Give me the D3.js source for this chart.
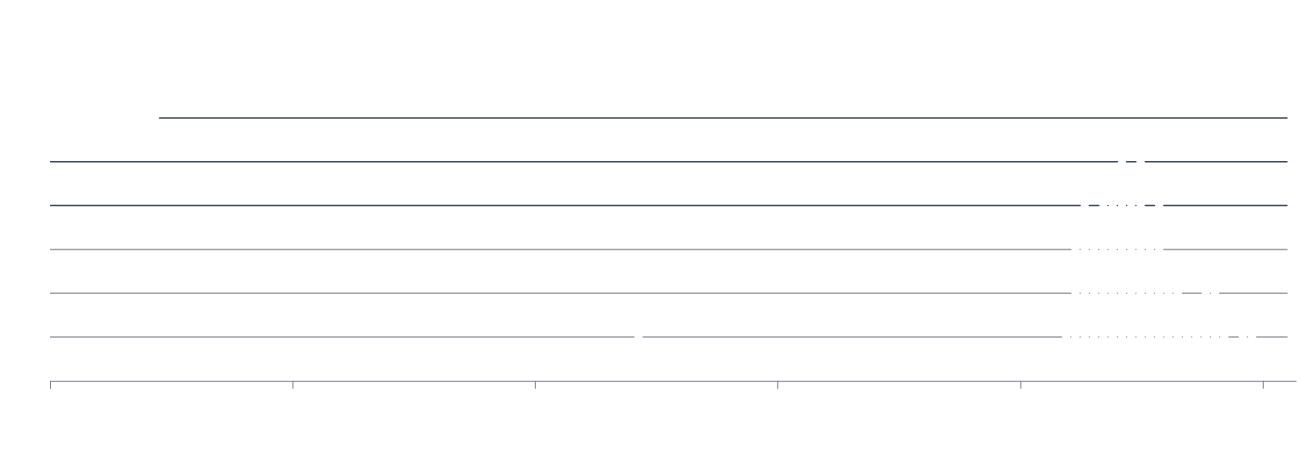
<!DOCTYPE html>
<html>
<head>
<meta charset="utf-8">
<script src="https://cdn.jsdelivr.net/npm/d3@7"></script>
<style>
  html, body { margin: 0; padding: 0; background: #ffffff; }
  svg { display: block; }
</style>
</head>
<body>
<svg id="chart" width="1302" height="474"></svg>
<script>
// ---- data ----
// Six series; weekly samples starting 2016-12-29. Each run = [firstWeek, lastWeek] of available data.
const seriesNames = ["S1", "S2", "S3", "S4", "S5", "S6"];
const seriesGroup = ["dark", "dark", "dark", "light", "light", "light"];
const firstSample = "2016-12-29";
const sampleCount = 268;
const runsS1 = [[24, 267]];
const runsS2 = [[0, 230], [232, 234], [236, 267]];
const runsS3 = [[0, 222], [224, 226], [228, 228], [230, 230], [232, 232], [234, 234], [236, 238], [240, 267]];
const runsS4 = [[0, 220], [222, 222], [224, 224], [226, 226], [228, 228], [230, 230], [232, 232], [234, 234], [236, 236], [238, 238], [240, 267]];
const runsS5 = [[0, 220], [222, 222], [224, 224], [226, 226], [228, 228], [230, 230], [232, 232], [234, 234], [236, 236], [238, 238], [240, 240], [242, 242], [244, 248], [250, 250], [252, 267]];
const runsS6 = [[0, 126], [128, 218], [220, 220], [222, 222], [224, 224], [226, 226], [228, 228], [230, 230], [232, 232], [234, 234], [236, 236], [238, 238], [240, 240], [242, 242], [244, 244], [246, 246], [248, 248], [250, 250], [252, 252], [254, 256], [258, 258], [260, 267]];
const allRuns = [runsS1, runsS2, runsS3, runsS4, runsS5, runsS6];
const domainStart = "2017-01-01";
const domainEnd = "2022-02-20";

// ---- build ----
const parse = d3.timeParse("%Y-%m-%d");
const start = parse(firstSample);
const svg = d3.select("#chart");

const x = d3.scaleTime()
  .domain([parse(domainStart), parse(domainEnd)])
  .range([50, 1296]);

const y = d3.scalePoint()
  .domain(seriesNames)
  .range([118, 337]);

const color = d3.scaleOrdinal()
  .domain(["dark", "light"])
  .range(["#3b4859", "#9ca1ab"]);

const weeks = d3.range(sampleCount).map(i => d3.timeDay.offset(start, 7 * i));

const series = seriesNames.map((name, si) => ({
  name,
  group: seriesGroup[si],
  values: weeks.map((d, i) => ({
    date: d,
    ok: allRuns[si].some(r => i >= r[0] && i <= r[1])
  }))
}));

svg.append("defs").append("clipPath").attr("id", "plotclip")
  .append("rect").attr("x", 50).attr("y", 0).attr("width", 1287.5 - 50).attr("height", 474);

const line = d3.line()
  .defined(d => d.ok)
  .x(d => x(d.date));

const g = svg.append("g").attr("clip-path", "url(#plotclip)");
g.selectAll("path.series")
  .data(series)
  .join("path")
  .attr("class", "series")
  .attr("fill", "none")
  .attr("stroke", d => color(d.group))
  .attr("stroke-width", 1.5)
  .attr("stroke-linecap", "round")
  .attr("d", d => line.y(() => y(d.name))(d.values));

const axisY = y(seriesNames[seriesNames.length - 1]) + y.step();
const axis = d3.axisBottom(x)
  .ticks(d3.timeYear.every(1))
  .tickFormat("")
  .tickSize(8)
  .tickSizeOuter(0);

const ax = svg.append("g")
  .attr("transform", `translate(0,${axisY})`)
  .call(axis);
ax.select(".domain").attr("stroke", "#7a828f");
ax.selectAll(".tick line").attr("stroke", "#7a828f");
</script>
</body>
</html>
